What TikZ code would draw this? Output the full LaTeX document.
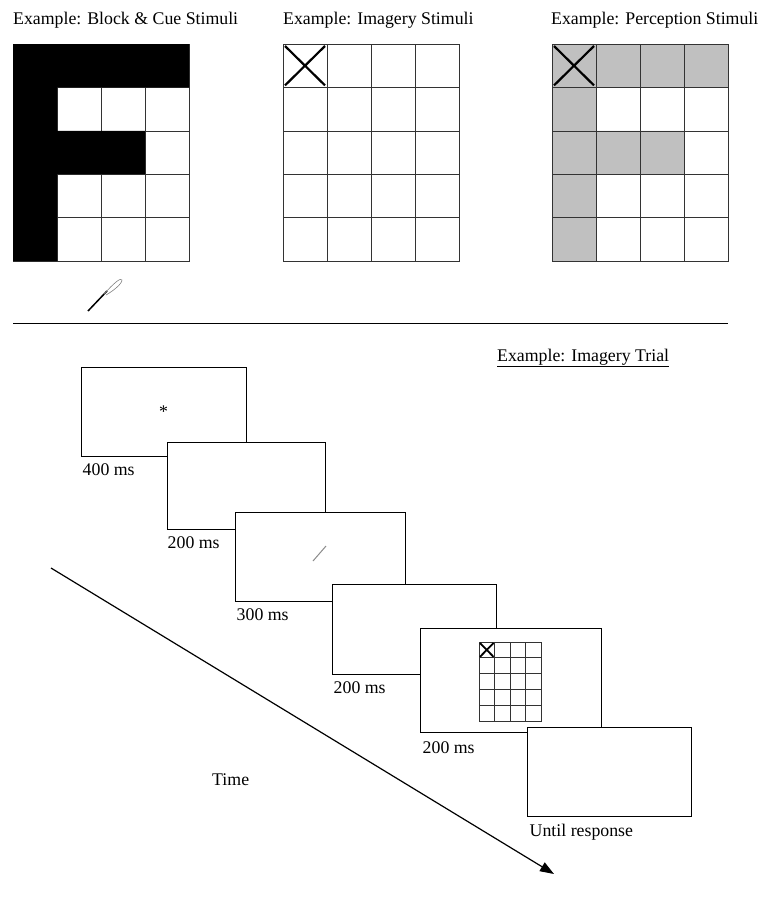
\documentclass[tikz,border=0pt]{standalone}
\usepackage{fontspec}
\setmainfont{Liberation Serif}
\usetikzlibrary{arrows.meta,positioning}
\definecolor{cellgray}{HTML}{C0C0C0}

\begin{document}
\begin{tikzpicture}[
  x=1pt, y=-1pt,
  font=\fontsize{17.8}{21}\selectfont,
  screen/.style={draw, fill=white, line width=1pt, inner sep=0pt},
  cell/.style={draw=black!80, line width=0.6pt},
  cross/.style={line width=2.2pt},
  title/.style={anchor=base west, inner sep=0pt},
  dur/.style={inner sep=0pt},
  arrow/.style={-{Triangle[length=14pt,width=10pt]}, line width=1.2pt}
]
\useasboundingbox (0,0) rectangle (762,902);

% example stimuli
\node[title] (tblock) at (13,24) {Example: Block \& Cue Stimuli};
\node[title] (timag) at (283,24) {Example: Imagery Stimuli};
\node[title] (tperc) at (551,24) {Example: Perception Stimuli};

\begin{scope}[shift={(13,44)}]
  \foreach \c in {0,...,3}
    \foreach \r in {0,...,4}
      \draw[cell] (44*\c,43.4*\r) rectangle ++(44,43.4);
  \fill (0,0) -- (176,0) -- (176,43.4) -- (44,43.4) -- (44,86.8) -- (132,86.8)
    -- (132,130.2) -- (44,130.2) -- (44,217) -- (0,217) -- cycle;
\end{scope}
\draw[line width=1.5pt] (88,311) -- (107,291);
\draw[black!50, line width=0.6pt] (104,294) .. controls (114,283) and (121,277) .. (122,280)
  .. controls (122,284) and (113,291) .. (106,295);

\begin{scope}[shift={(283,44)}]
  \foreach \c in {0,...,3}
    \foreach \r in {0,...,4}
      \draw[cell] (44*\c,43.4*\r) rectangle ++(44,43.4);
  \draw[cross] (2,2) -- (42,41.4) (42,2) -- (2,41.4);
\end{scope}

\begin{scope}[shift={(552,44)}]
  \fill[cellgray] (0,0) -- (176,0) -- (176,43.4) -- (44,43.4) -- (44,86.8) -- (132,86.8)
    -- (132,130.2) -- (44,130.2) -- (44,217) -- (0,217) -- cycle;
  \foreach \c in {0,...,3}
    \foreach \r in {0,...,4}
      \draw[cell] (44*\c,43.4*\r) rectangle ++(44,43.4);
  \draw[cross] (2,2) -- (42,41.4) (42,2) -- (2,41.4);
\end{scope}

\draw[line width=0.8pt] (13,323) -- (728,323);

% trial sequence
\node[title] (ttrial) at (497,361) {\underline{Example: Imagery Trial}};

\node[screen, minimum width=165pt, minimum height=89pt] (s1) at (163.5,411.5) {*};
\node[dur, below right=7pt and 2pt of s1.south west] (l1) {400 ms};

\node[screen, minimum width=158pt, minimum height=87pt] (s2) at (246,485.5) {};
\node[dur, below right=7pt and 1pt of s2.south west] (l2) {200 ms};

\node[screen, minimum width=170pt, minimum height=89pt] (s3) at (320,556.5) {};
\draw[black!45, line width=1pt] (313,561) -- (326,546);
\node[dur, below right=7pt and 2pt of s3.south west] (l3) {300 ms};

\node[screen, minimum width=164pt, minimum height=90pt] (s4) at (414,629) {};
\node[dur, below right=7pt and 2pt of s4.south west] (l4) {200 ms};

\node[screen, minimum width=181pt, minimum height=104pt] (s5) at (510.5,680) {};
\begin{scope}[shift={(479,642)}]
  \foreach \c in {0,...,3}
    \foreach \r in {0,...,4}
      \draw[cell, line width=0.8pt] (15.5*\c,15.8*\r) rectangle ++(15.5,15.8);
  \draw[line width=1.8pt] (1,1) -- (14.5,14.8) (14.5,1) -- (1,14.8);
\end{scope}
\node[dur, below right=9pt and 3pt of s5.south west] (l5) {200 ms};

\node[screen, minimum width=164pt, minimum height=89pt] (s6) at (609,771.5) {};
\node[dur, below right=7pt and 3pt of s6.south west] (l6) {Until response};

\coordinate (t0) at (51,568);
\coordinate (t1) at (554,874);
\draw[arrow] (t0) -- (t1);
\node[title] (time) at (212,785) {Time};
\end{tikzpicture}
\end{document}
